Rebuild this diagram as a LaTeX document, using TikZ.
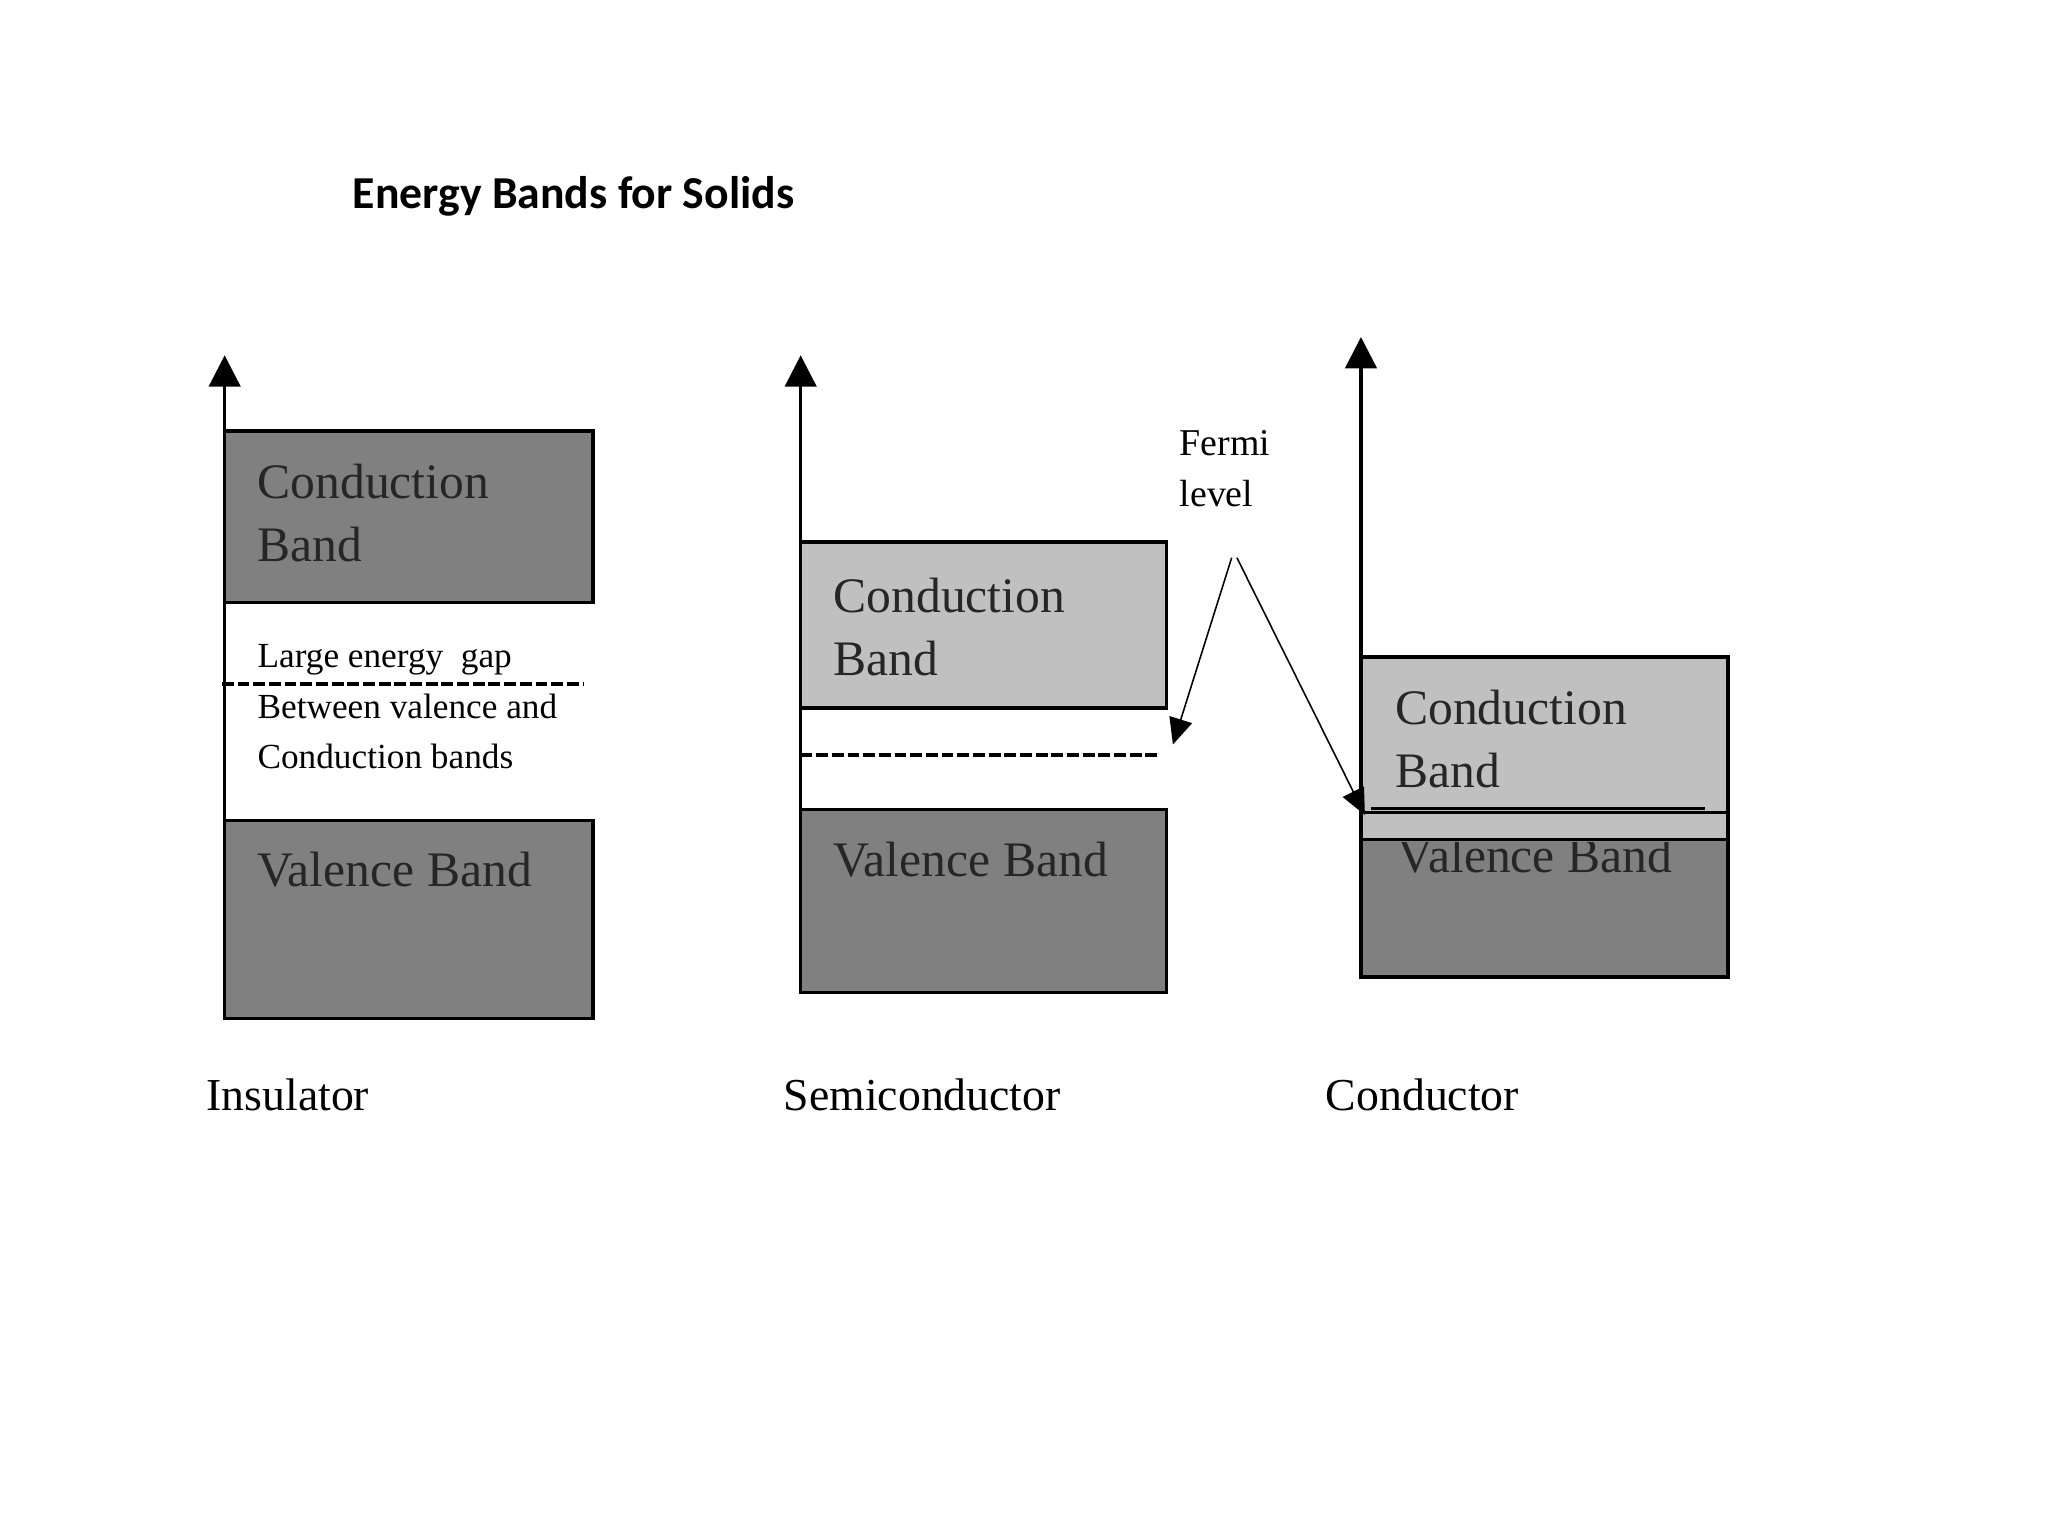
\documentclass[tikz,border=0pt]{standalone}
\usepackage{fontspec}
\setmainfont{Liberation Serif}
\newfontfamily\ttl{Carlito}
\usetikzlibrary{arrows.meta}
\definecolor{dkg}{RGB}{128,128,128}
\definecolor{ltg}{RGB}{192,192,192}
\begin{document}
\begin{tikzpicture}[x=1pt,y=-1pt,
  dk/.style={draw=black,line width=2.5pt,fill=dkg},
  lt/.style={draw=black,line width=2.5pt,fill=ltg},
  ax/.style={line width=2.5pt,-{Triangle[length=24pt,width=24pt]}},
  fm/.style={line width=1.2pt,-{Triangle[length=20pt,width=18pt]}},
  dsh/.style={line width=3pt,dash pattern=on 9pt off 3pt},
  bl/.style={anchor=west,font=\fontsize{38}{48}\selectfont,align=left,inner sep=0pt,text=black!85},
  sl/.style={anchor=west,font=\fontsize{27}{39}\selectfont,align=left,inner sep=0pt},
  captxt/.style={anchor=west,font=\fontsize{35}{40}\selectfont,inner sep=0pt}]
\useasboundingbox (0,0) rectangle (1568,1176);
\node[anchor=west,inner sep=0pt,font=\ttl\bfseries\fontsize{35}{40}\selectfont] (t) at (270,150) {Energy Bands for Solids};
% Insulator
\coordinate (a1s) at (172,780); \coordinate (a1e) at (172,272);
\draw[ax] (a1s) -- (a1e);
\draw[dk] (172,330) rectangle (454,461);
\draw[dk] (172,628) rectangle (454,780);
\draw[dsh] (170,524) -- (447,524);
\node[bl] (ic) at (197,393) {Conduction\\Band};
\node[bl] (iv) at (197,666) {Valence Band};
\node[sl] (ig) at (197,541) {Large energy\ \ gap\\Between valence and\\Conduction bands};
% Semiconductor
\coordinate (a2s) at (613,760); \coordinate (a2e) at (613,272);
\draw[ax] (a2s) -- (a2e);
\draw[lt] (613,415) rectangle (893,542);
\draw[dk] (613,620) rectangle (893,760);
\draw[dsh] (613,578) -- (888,578);
\node[bl] (sc) at (638,480) {Conduction\\Band};
\node[bl] (sv) at (638,658) {Valence Band};
% Conductor
\coordinate (a3s) at (1042,748); \coordinate (a3e) at (1042,258);
\draw[ax] (a3s) -- (a3e);
\draw[dk] (1042,643) rectangle (1323,748);
\draw[lt] (1042,503) rectangle (1323,643);
\begin{scope}
\clip (1044,645) rectangle (1321,746);
\node[bl] (cv) at (1070,655) {Valence Band};
\end{scope}
\draw[line width=2.5pt] (1042,622) -- (1323,622);
\draw[line width=3pt] (1050,619) -- (1305,619);
\node[bl] (cc) at (1068,566) {Conduction\\Band};
% Fermi
\node[sl,font=\fontsize{29}{39}\selectfont] (f) at (903,359) {Fermi\\level};
\coordinate (fa) at (943,427); \coordinate (fb) at (947,427);
\coordinate (fe1) at (898,570); \coordinate (fe2) at (1045,624);
\draw[fm] (fa) -- (fe1);
\draw[fm] (fb) -- (fe2);
% captions
\node[captxt] (l1) at (158,838) {Insulator};
\node[captxt] (l2) at (600,838) {Semiconductor};
\node[captxt] (l3) at (1015,838) {Conductor};
\end{tikzpicture}
\end{document}
